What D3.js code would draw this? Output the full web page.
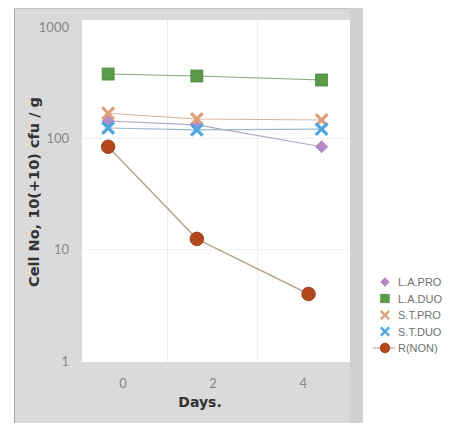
<!DOCTYPE html>
<html>
<head>
<meta charset="utf-8">
<script src="https://cdn.jsdelivr.net/npm/d3@7"></script>
<style>
  body { margin: 0; background: #fff; }
  svg { display: block; }
</style>
</head>
<body>
<div id="chart"></div>
<script>
// values (x positions are read too; the dots sit off the day ticks)
const seriesNames = ["L.A.PRO", "L.A.DUO", "S.T.PRO", "S.T.DUO", "R(NON)"];
const dayTicks = [0, 2, 4];
const yTicks = [1, 10, 100, 1000];
const pointDays = [-0.32, 1.65, 4.42];
const pointDaysNon = [-0.32, 1.65, 4.13];
const laPro = [143, 132, 84];
const laDuo = [378, 363, 334];
const stPro = [168, 149, 146];
const stDuo = [124, 119, 121];
const rNon = [84, 12.5, 4.0];

const colors = ["#b48ac6", "#5a9a4a", "#dea07a", "#4ea6e0", "#b2481c"];
const shapes = ["diamond", "square", "cross", "cross", "circle"];

const width = 466, height = 426;
const plot = { left: 82, right: 350, top: 20, bottom: 362 };

const svg = d3.select("#chart").append("svg")
  .attr("width", width)
  .attr("height", height);

// grey frame round the plot
svg.append("rect")
  .attr("x", 14).attr("y", 8)
  .attr("width", 349).attr("height", 415)
  .attr("fill", "#dadada");
svg.append("line")
  .attr("x1", 14.5).attr("x2", 14.5).attr("y1", 8).attr("y2", 423)
  .attr("stroke", "#a8a8a8");
svg.append("line")
  .attr("x1", 14).attr("x2", 363).attr("y1", 8.5).attr("y2", 8.5)
  .attr("stroke", "#c4c4c4");
svg.append("rect")
  .attr("x", 350).attr("y", 8)
  .attr("width", 13).attr("height", 415)
  .attr("fill", "#d0d0d0");

svg.append("rect")
  .attr("x", plot.left).attr("y", plot.top)
  .attr("width", plot.right - plot.left).attr("height", plot.bottom - plot.top)
  .attr("fill", "#ffffff");

const x = d3.scaleLinear().domain([-0.9, 5.05]).range([plot.left, plot.right]);
const y = d3.scaleLog().domain([1, 1000]).range([361, 27]);

// faint grid
svg.append("g").selectAll("line")
  .data([1, 3])
  .enter().append("line")
  .attr("x1", d => x(d)).attr("x2", d => x(d))
  .attr("y1", plot.top).attr("y2", plot.bottom)
  .attr("stroke", "#ececec");
svg.append("g").selectAll("line")
  .data([10, 100])
  .enter().append("line")
  .attr("x1", plot.left).attr("x2", plot.right)
  .attr("y1", d => y(d)).attr("y2", d => y(d))
  .attr("stroke", "#f0f0f0");

// axes
const yAxis = svg.append("g")
  .attr("transform", "translate(" + (plot.left - 10) + ",0)")
  .call(d3.axisLeft(y).tickValues(yTicks).tickFormat(d3.format("d")).tickSize(0));
yAxis.select(".domain").remove();
yAxis.selectAll("text")
  .attr("fill", "#888")
  .style("font-family", "Lato, sans-serif")
  .style("font-size", "13px");

const xAxis = svg.append("g")
  .attr("transform", "translate(0," + (plot.bottom + 14) + ")")
  .call(d3.axisBottom(x).tickValues(dayTicks).tickFormat(d3.format("d")).tickSize(0));
xAxis.select(".domain").remove();
xAxis.selectAll("text")
  .attr("fill", "#888")
  .style("font-family", "Lato, sans-serif")
  .style("font-size", "13px");

svg.append("text")
  .attr("transform", "translate(39,192) rotate(-90)")
  .attr("text-anchor", "middle")
  .style("font-family", "'DejaVu Sans', sans-serif")
  .style("font-weight", "bold")
  .style("font-size", "14.5px")
  .attr("fill", "#333")
  .text("Cell No, 10(+10) cfu / g");

svg.append("text")
  .attr("x", 200).attr("y", 407)
  .attr("text-anchor", "middle")
  .style("font-family", "'DejaVu Sans', sans-serif")
  .style("font-weight", "bold")
  .style("font-size", "14px")
  .attr("fill", "#333")
  .text("Days.");

const series = [laPro, laDuo, stPro, stDuo, rNon].map((vals, i) => ({
  name: seriesNames[i],
  color: colors[i],
  shape: shapes[i],
  points: vals.map((v, j) => ({
    day: i === 4 ? pointDaysNon[j] : pointDays[j],
    value: v
  }))
}));

const line = d3.line().x(d => x(d.day)).y(d => y(d.value));

function drawMarker(g, shape, color) {
  if (shape === "square") {
    g.append("rect").attr("x", -6).attr("y", -6).attr("width", 12).attr("height", 12)
      .attr("fill", color).attr("stroke", "#4a8a3c").attr("stroke-width", 0.8);
  } else if (shape === "diamond") {
    g.append("path").attr("d", d3.symbol().type(d3.symbolDiamond2).size(110))
      .attr("fill", color);
  } else if (shape === "cross") {
    g.append("path").attr("d", d3.symbol().type(d3.symbolX).size(90))
      .attr("stroke", color).attr("stroke-width", 3.2).attr("fill", "none");
  } else {
    g.append("circle").attr("r", 6.8)
      .attr("fill", color).attr("stroke", "#8e3412").attr("stroke-width", 0.8);
  }
}

const lineColors = ["#b5a2c0", "#86a67a", "#d4b49c", "#9ab8cc", "#b8a898"];

svg.append("g").selectAll("path")
  .data(series)
  .enter().append("path")
  .attr("d", d => line(d.points))
  .attr("fill", "none")
  .attr("stroke", (d, i) => lineColors[i])
  .attr("stroke-width", (d, i) => i === 4 ? 1.6 : 1.1);

series.forEach(s => {
  s.points.forEach(p => {
    const g = svg.append("g")
      .attr("transform", "translate(" + x(p.day) + "," + y(p.value) + ")");
    drawMarker(g, s.shape, s.color);
  });
});

// legend
const legend = svg.append("g").attr("transform", "translate(385,282)");
series.forEach((s, i) => {
  const row = legend.append("g").attr("transform", "translate(0," + (i * 16.5) + ")");
  if (i === 4) {
    row.append("line").attr("x1", -12).attr("x2", 10).attr("stroke", lineColors[4]).attr("stroke-width", 1.2);
  }
  const m = row.append("g").attr("transform", "scale(0.72)");
  drawMarker(m, s.shape, s.color);
  row.append("text")
    .attr("x", 13).attr("y", 4)
    .style("font-family", "'Liberation Sans', Arial, sans-serif")
    .style("font-size", "11px")
    .attr("fill", "#707070")
    .text(s.name);
});
</script>
</body>
</html>
